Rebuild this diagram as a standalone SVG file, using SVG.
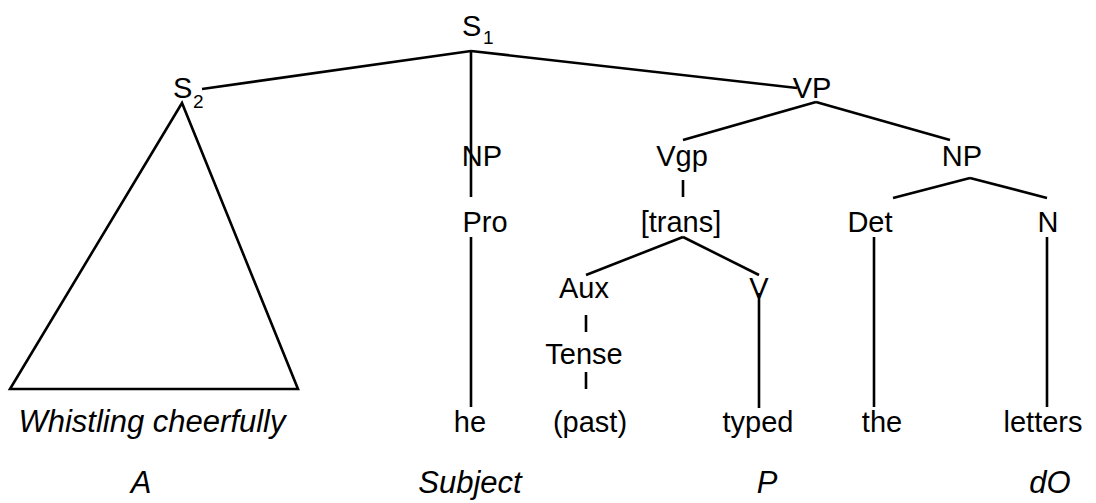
<svg xmlns="http://www.w3.org/2000/svg" width="1096" height="503" viewBox="0 0 1096 503">
<style>
.t{font-family:"Liberation Sans",Arial,sans-serif;font-size:29px;fill:#000;text-anchor:middle}
.s{font-family:"Liberation Sans",Arial,sans-serif;font-size:29px;fill:#000}
.sub{font-family:"Liberation Sans",Arial,sans-serif;font-size:19px;fill:#000}
.i{font-family:"Liberation Sans",Arial,sans-serif;font-size:31px;font-style:italic;fill:#000;text-anchor:middle}
.e{stroke:#000;stroke-width:2.6;fill:none;stroke-linecap:butt}
</style>
<rect width="1096" height="503" fill="#fff"/>
<g id="connectors">
<line class="e" x1="471" y1="51" x2="202" y2="89"/>
<line class="e" x1="471" y1="51" x2="797" y2="88"/>
<line class="e" x1="471" y1="51" x2="471" y2="197"/>
<line class="e" x1="471" y1="237" x2="471" y2="407"/>
<line class="e" x1="816" y1="102" x2="683" y2="140"/>
<line class="e" x1="816" y1="102" x2="950" y2="140"/>
<line class="e" x1="683" y1="180" x2="683" y2="197"/>
<line class="e" x1="683" y1="237" x2="586" y2="275"/>
<line class="e" x1="683" y1="237" x2="759" y2="275"/>
<line class="e" x1="586" y1="315" x2="586" y2="332"/>
<line class="e" x1="586" y1="372" x2="586" y2="389"/>
<line class="e" x1="759" y1="293" x2="759" y2="408"/>
<line class="e" x1="970" y1="178" x2="893" y2="198"/>
<line class="e" x1="970" y1="178" x2="1047" y2="198"/>
<line class="e" x1="874" y1="237" x2="874" y2="407"/>
<line class="e" x1="1047" y1="237" x2="1047" y2="407"/>
</g>
<g id="S1"><text class="s" x="462" y="36">S</text><text class="sub" x="483" y="44">1</text></g>
<g id="S2"><text class="s" x="173" y="98">S</text><text class="sub" x="193" y="108">2</text>
<polygon class="e" points="182,103 10,389 298,389" stroke-linejoin="miter"/></g>
<g id="VP"><text class="t" x="812" y="98">VP</text></g>
<g id="NP1"><text class="t" x="482" y="166">NP</text></g>
<g id="Vgp"><text class="t" x="682" y="166">Vgp</text></g>
<g id="NP2"><text class="t" x="962" y="166">NP</text></g>
<g id="Pro"><text class="t" x="485" y="232">Pro</text></g>
<g id="trans"><text class="t" x="681" y="232">[trans]</text></g>
<g id="Det"><text class="t" x="870" y="232">Det</text></g>
<g id="N"><text class="t" x="1048" y="232">N</text></g>
<g id="Aux"><text class="t" x="584" y="298">Aux</text></g>
<g id="V"><text class="t" x="759" y="298">V</text></g>
<g id="Tense"><text class="t" x="584" y="364">Tense</text></g>
<g id="w-whistling"><text class="i" x="152" y="432">Whistling cheerfully</text></g>
<g id="w-he"><text class="t" x="470" y="432">he</text></g>
<g id="w-past"><text class="t" x="590" y="432">(past)</text></g>
<g id="w-typed"><text class="t" x="758" y="432">typed</text></g>
<g id="w-the"><text class="t" x="882" y="432">the</text></g>
<g id="w-letters"><text class="t" x="1043" y="432">letters</text></g>
<g id="f-A"><text class="i" x="141" y="493">A</text></g>
<g id="f-Subject"><text class="i" x="470" y="493">Subject</text></g>
<g id="f-P"><text class="i" x="767" y="493">P</text></g>
<g id="f-dO"><text class="i" x="1050" y="493">dO</text></g>
</svg>
